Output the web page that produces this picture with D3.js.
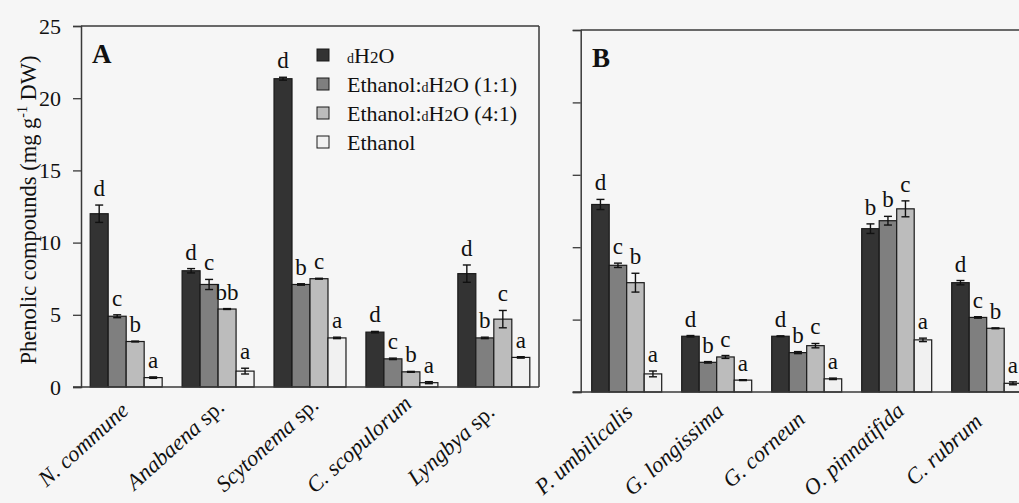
<!DOCTYPE html>
<html>
<head>
<meta charset="utf-8">
<script src="https://cdn.jsdelivr.net/npm/d3@7/dist/d3.min.js"></script>
<style>
  html, body { margin: 0; padding: 0; background: #f6f6f6; }
  svg { display: block; }
  text { font-family: "Liberation Serif", "Times New Roman", serif; fill: #111; }
</style>
</head>
<body>
<svg id="chart" width="1019" height="503"></svg>
<script>
// ---------- data ----------
const series = ["dH2O", "Ethanol:dH2O (1:1)", "Ethanol:dH2O (4:1)", "Ethanol"];
const seriesColors = ["#333333", "#7f7f7f", "#bcbcbc", "#f1f1f1"];

const categoriesA = ["N. commune", "Anabaena sp.", "Scytonema sp.", "C. scopulorum", "Lyngbya sp."];
const valuesA_dH2O   = [12.0, 8.05, 21.35, 3.8, 7.85];
const valuesA_EtW11  = [4.9, 7.1, 7.1, 1.95, 3.4];
const valuesA_EtW41  = [3.15, 5.4, 7.5, 1.05, 4.7];
const valuesA_Et     = [0.65, 1.1, 3.4, 0.3, 2.05];
const errorsA_dH2O   = [0.6, 0.15, 0.1, 0.05, 0.6];
const errorsA_EtW11  = [0.1, 0.35, 0.05, 0.05, 0.05];
const errorsA_EtW41  = [0.03, 0.03, 0.03, 0.03, 0.6];
const errorsA_Et     = [0.05, 0.2, 0.05, 0.07, 0.05];
const lettersA_dH2O  = ["d", "d", "d", "d", "d"];
const lettersA_EtW11 = ["c", "c", "b", "c", "b"];
const lettersA_EtW41 = ["b", "bb", "c", "b", "c"];
const lettersA_Et    = ["a", "a", "a", "a", "a"];

const categoriesB = ["P. umbilicalis", "G. longissima", "G. corneun", "O. pinnatifida", "C. rubrum"];
const valuesB_dH2O   = [12.95, 3.85, 3.85, 11.28, 7.55];
const valuesB_EtW11  = [8.75, 2.05, 2.72, 11.83, 5.15];
const valuesB_EtW41  = [7.55, 2.42, 3.2, 12.65, 4.4];
const valuesB_Et     = [1.25, 0.82, 0.91, 3.6, 0.6];
const errorsB_dH2O   = [0.35, 0.05, 0.03, 0.33, 0.15];
const errorsB_EtW11  = [0.15, 0.05, 0.07, 0.3, 0.05];
const errorsB_EtW41  = [0.65, 0.1, 0.15, 0.55, 0.03];
const errorsB_Et     = [0.2, 0.03, 0.05, 0.12, 0.1];
const lettersB_dH2O  = ["d", "d", "d", "b", "d"];
const lettersB_EtW11 = ["c", "b", "b", "b", "c"];
const lettersB_EtW41 = ["b", "c", "c", "c", "b"];
const lettersB_Et    = ["a", "a", "a", "a", "a"];

const yTicks = [0, 5, 10, 15, 20, 25];

// ---------- build rows ----------
function buildRows(cats, vals, errs, lets) {
  const rows = [];
  cats.forEach((c, i) => {
    series.forEach((s, j) => {
      rows.push({ cat: c, ser: s, si: j, v: vals[j][i], e: errs[j][i], l: lets[j][i] });
    });
  });
  return rows;
}
const rowsA = buildRows(categoriesA,
  [valuesA_dH2O, valuesA_EtW11, valuesA_EtW41, valuesA_Et],
  [errorsA_dH2O, errorsA_EtW11, errorsA_EtW41, errorsA_Et],
  [lettersA_dH2O, lettersA_EtW11, lettersA_EtW41, lettersA_Et]);
const rowsB = buildRows(categoriesB,
  [valuesB_dH2O, valuesB_EtW11, valuesB_EtW41, valuesB_Et],
  [errorsB_dH2O, errorsB_EtW11, errorsB_EtW41, errorsB_Et],
  [lettersB_dH2O, lettersB_EtW11, lettersB_EtW41, lettersB_Et]);

const svg = d3.select("#chart");
const color = d3.scaleOrdinal().domain(series).range(seriesColors);
const frameColor = "#3a3a3a";

function panel(opts) {
  const { cats, rows, xRange, yRange, pInner, pOuter, showLabels, frameRight, panelLetter, letterX } = opts;
  const x = d3.scaleBand().domain(cats).range(xRange).paddingInner(pInner).paddingOuter(pOuter);
  const xs = d3.scaleBand().domain(series).range([0, x.bandwidth()]);
  const y = d3.scaleLinear().domain([0, 25]).range(yRange);
  const g = svg.append("g");

  // frame: top + right
  const x0 = xRange[0], x1 = frameRight;
  g.append("line").attr("x1", x0).attr("x2", x1).attr("y1", y(25)).attr("y2", y(25))
    .attr("stroke", frameColor).attr("stroke-width", 1.5);
  if (x1 < 1019) {
    g.append("line").attr("x1", x1).attr("x2", x1).attr("y1", y(25)).attr("y2", y(0))
      .attr("stroke", frameColor).attr("stroke-width", 1.5);
  }

  // y axis
  const yAxis = d3.axisLeft(y).tickValues(yTicks).tickSize(8).tickPadding(12)
    .tickFormat(showLabels ? d3.format("d") : () => "");
  const ya = g.append("g").attr("transform", `translate(${x0},0)`).call(yAxis);
  ya.select(".domain").attr("stroke", frameColor).attr("stroke-width", 1.5);
  ya.selectAll(".tick line").attr("stroke", frameColor).attr("stroke-width", 1.3);
  ya.selectAll(".tick text").style("font-family", '"Liberation Serif", serif')
    .style("font-size", "22px").attr("fill", "#111");

  // bars
  const bars = g.append("g");
  bars.selectAll("rect").data(rows).join("rect")
    .attr("x", d => x(d.cat) + xs(d.ser))
    .attr("y", d => y(d.v))
    .attr("width", xs.bandwidth())
    .attr("height", d => y(0) - y(d.v))
    .attr("fill", d => color(d.ser))
    .attr("stroke", "#1a1a1a").attr("stroke-width", 1.2);

  // error bars
  const eb = g.append("g").attr("stroke", "#111").attr("stroke-width", 1.4);
  rows.forEach(d => {
    const cx = x(d.cat) + xs(d.ser) + xs.bandwidth() / 2;
    const yt = y(d.v + d.e), yb = y(d.v - d.e);
    eb.append("line").attr("x1", cx).attr("x2", cx).attr("y1", yt).attr("y2", yb);
    eb.append("line").attr("x1", cx - 4).attr("x2", cx + 4).attr("y1", yt).attr("y2", yt);
    eb.append("line").attr("x1", cx - 4).attr("x2", cx + 4).attr("y1", yb).attr("y2", yb);
  });

  // letters
  g.append("g").selectAll("text").data(rows).join("text")
    .attr("x", d => x(d.cat) + xs(d.ser) + xs.bandwidth() / 2)
    .attr("y", d => y(d.v + d.e) - 9)
    .attr("text-anchor", "middle")
    .style("font-size", "23px")
    .text(d => d.l);

  // x axis baseline
  g.append("line").attr("x1", x0 - 8).attr("x2", Math.min(x1, 1019)).attr("y1", y(0)).attr("y2", y(0))
    .attr("stroke", frameColor).attr("stroke-width", 1.5);

  // x labels
  const xl = g.append("g");
  cats.forEach(c => {
    const cx = x(c) + x.bandwidth() / 2;
    const t = xl.append("text")
      .attr("transform", `translate(${cx - 38},${y(0) + 63}) rotate(-42)`)
      .attr("text-anchor", "middle")
      .style("font-size", "22.5px");
    const m = c.match(/^(.*?)( sp\.)$/);
    if (m) {
      t.append("tspan").style("font-style", "italic").text(m[1]);
      t.append("tspan").text(m[2]);
    } else {
      t.append("tspan").style("font-style", "italic").text(c);
    }
  });

  // panel letter
  g.append("text").attr("x", letterX).attr("y", y(25) + 37)
    .style("font-size", "27px").style("font-weight", "bold").text(panelLetter);

  return { x, y };
}

panel({ cats: categoriesA, rows: rowsA, xRange: [81, 539], yRange: [387, 26],
  pInner: 0.217, pOuter: 0.1, showLabels: true, frameRight: 539, panelLetter: "A", letterX: 92 });
panel({ cats: categoriesB, rows: rowsB, xRange: [580.7, 1032.7], yRange: [392, 30],
  pInner: 0.2222, pOuter: 0.1222, showLabels: false, frameRight: 1040, panelLetter: "B", letterX: 592 });

// y title
const yt = svg.append("text")
  .attr("transform", "translate(36,210) rotate(-90)")
  .attr("text-anchor", "middle")
  .style("font-size", "22.5px");
yt.append("tspan").text("Phenolic compounds (mg g");
yt.append("tspan").attr("dy", -9).style("font-size", "14px").text("-1");
yt.append("tspan").attr("dy", 9).text(" DW)");

// legend
const legend = svg.append("g").attr("transform", "translate(317,49)");
const rowH = 29;
series.forEach((s, i) => {
  const row = legend.append("g").attr("transform", `translate(0,${i * rowH})`);
  row.append("rect").attr("x", 0).attr("y", 0).attr("width", 12).attr("height", 12)
    .attr("fill", color(s)).attr("stroke", "#1a1a1a").attr("stroke-width", 1);
  const t = row.append("text").attr("x", 30).attr("y", 14).style("font-size", "22px");
  const parts = s.split(/(dH2O)/);
  parts.forEach(p => {
    if (p === "dH2O") {
      t.append("tspan").style("font-size", "14px").text("d");
      t.append("tspan").text("H");
      t.append("tspan").style("font-size", "17px").text("2");
      t.append("tspan").text("O");
    } else if (p) {
      t.append("tspan").text(p);
    }
  });
});
</script>
</body>
</html>
